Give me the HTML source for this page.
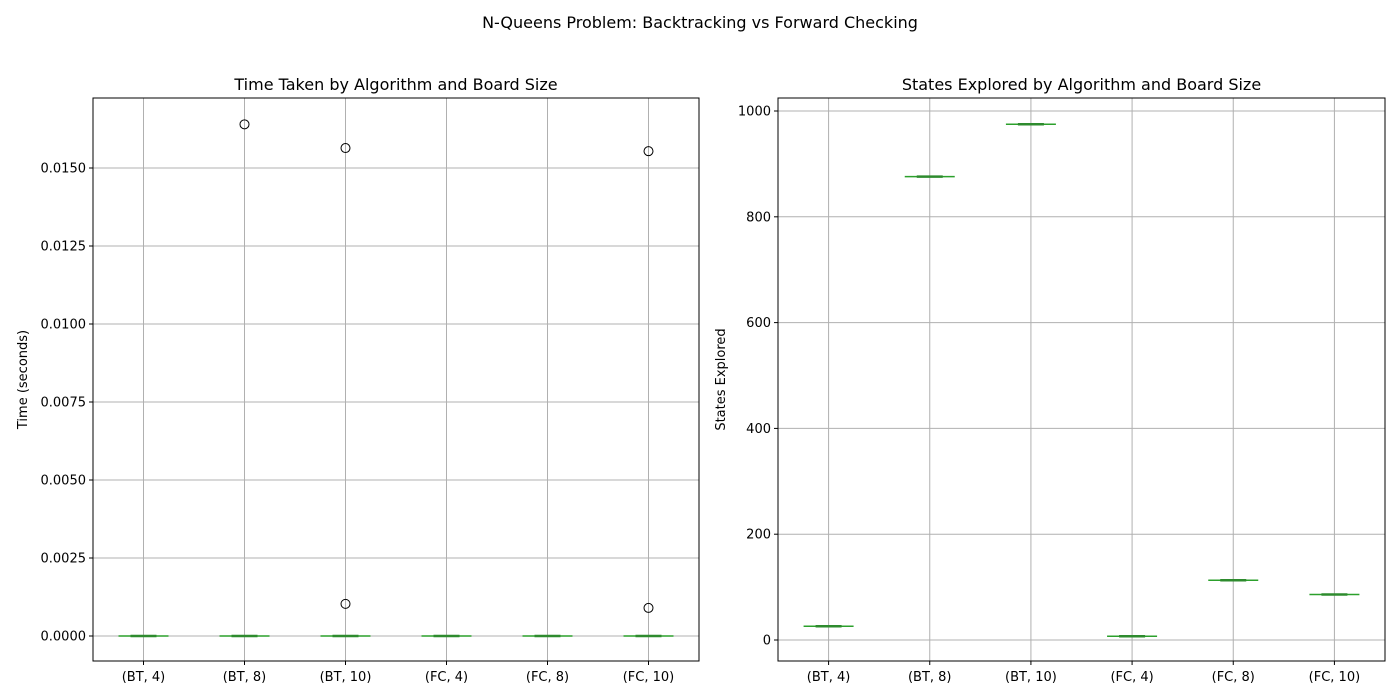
<!DOCTYPE html>
<html><head><meta charset="utf-8"><style>body{margin:0;background:#fff}svg{display:block;font-family:"DejaVu Sans","Liberation Sans",sans-serif}</style></head>
<body>
<svg id="c" width="1400" height="700"></svg>
<script>
const categories=["(BT, 4)","(BT, 8)","(BT, 10)","(FC, 4)","(FC, 8)","(FC, 10)"];
const timeMedians=[0,0,0,0,0,0];
const timeOutliers=[[],[0.0164],[0.01564,0.00103],[],[],[0.01554,0.0009]];
const timeTicks=[0,0.0025,0.005,0.0075,0.01,0.0125,0.015];
const stateMedians=[26,876,975,7,113,86];
const stateTicks=[0,200,400,600,800,1000];
const NS="http://www.w3.org/2000/svg";
const svg=document.getElementById('c');
function el(t,a,p){const e=document.createElementNS(NS,t);for(const k in a)e.setAttribute(k,a[k]);(p||svg).appendChild(e);return e;}
function txt(s,a,p){const e=el('text',a,p);e.textContent=s;return e;}
const title=txt("N-Queens Problem: Backtracking vs Forward Checking",{x:700,y:28,'text-anchor':'middle','font-size':16});


function panel(o){
  const g=el('g',{});
  
  
  const {x0,x1,y0,y1,vmin,vmax}=o;
  const yS=v=>y1-(v-vmin)/(vmax-vmin)*(y1-y0);
  const bw=(x1-x0)/categories.length;
  const xS=i=>x0+bw*(i+0.5);
  categories.forEach((c,i)=>{
    const gl=el('line',{x1:xS(i),x2:xS(i),y1:y0,y2:y1,stroke:'#b0b0b0','stroke-width':1},g);
    
    
    el('line',{x1:xS(i),x2:xS(i),y1:y1,y2:y1+4,stroke:'#000'},g);
    const t=txt(c,{x:xS(i),y:y1+20,'text-anchor':'middle','font-size':13},g);
    
    
  });
  o.ticks.forEach(v=>{
    const y=yS(v);
    const gl=el('line',{x1:x0,x2:x1,y1:y,y2:y,stroke:'#b0b0b0','stroke-width':1},g);
    
    
    el('line',{x1:x0-4,x2:x0,y1:y,y2:y,stroke:'#000'},g);
    const t=txt(o.fmt(v),{x:x0-7,y:y+4.5,'text-anchor':'end','font-size':13},g);
    
    
  });
  o.medians.forEach((m,i)=>{
    const y=yS(m),cx=xS(i);
    const cap=el('line',{x1:cx-25,x2:cx+25,y1:y,y2:y,stroke:'#2ca02c','stroke-width':1.5},g);
    
    
    const b=el('line',{x1:cx-13,x2:cx+13,y1:y,y2:y,stroke:'#2e8b2e','stroke-width':2.5},g);
    
    
  });
  (o.outliers||[]).forEach((arr,i)=>arr.forEach(v=>{
    const c=el('circle',{cx:xS(i),cy:yS(v),r:4.5,fill:'none',stroke:'#000','stroke-width':1},g);
    
    
  }));
  const fr=el('rect',{x:x0,y:y0,width:x1-x0,height:y1-y0,fill:'none',stroke:'#000','stroke-width':1},g);
  
  
  const t=txt(o.title,{x:(x0+x1)/2,y:y0-8,'text-anchor':'middle','font-size':16},g);
  
  
  const yl=txt(o.ylabel,{x:0,y:0,'text-anchor':'middle','font-size':13,transform:`translate(${o.ylx},${(y0+y1)/2}) rotate(-90)`},g);
  
  
}
panel({name:'time-panel',x0:93,x1:699,y0:98,y1:661,vmin:-0.000801,vmax:0.017244,ticks:timeTicks,fmt:v=>v.toFixed(4),medians:timeMedians,outliers:timeOutliers,title:'Time Taken by Algorithm and Board Size',ylabel:'Time (seconds)',ylx:27});
panel({name:'states-panel',x0:778,x1:1385,y0:98,y1:661,vmin:-39.7,vmax:1024.6,ticks:stateTicks,fmt:v=>String(v),medians:stateMedians,title:'States Explored by Algorithm and Board Size',ylabel:'States Explored',ylx:725});
</script>
</body></html>
